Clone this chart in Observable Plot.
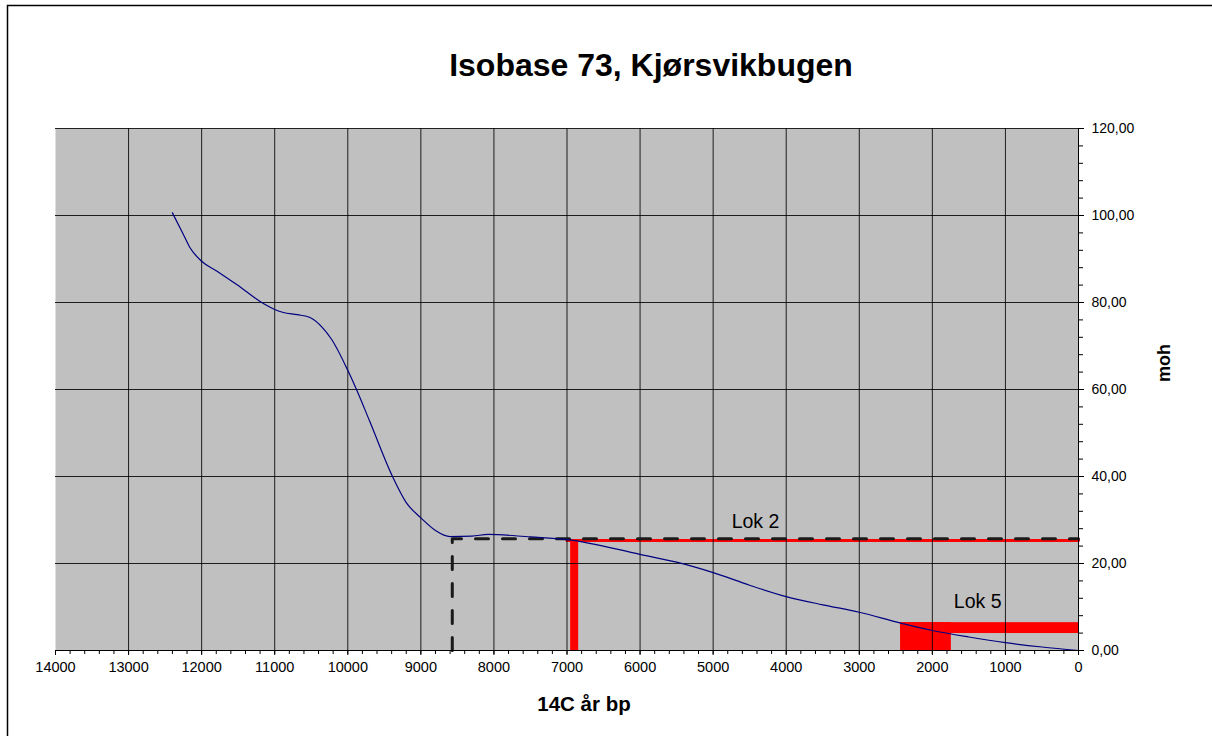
<!DOCTYPE html>
<html>
<head>
<meta charset="utf-8">
<script src="https://cdn.jsdelivr.net/npm/d3@7"></script>
<script src="https://cdn.jsdelivr.net/npm/@observablehq/plot@0.6"></script>
<style>
  html, body { margin: 0; padding: 0; background: #fff; }
  #chart svg { display: block; }
</style>
</head>
<body>
<div id="chart"></div>
<script>
// ---- data ----
const title = "Isobase 73, Kjørsvikbugen";
const xTitle = "14C år bp";
const yTitle = "moh";

// shoreline displacement curve (14C years BP, metres above sea level)
const curveYears   = [12400, 12255, 12163, 12008, 11800, 11510, 11150, 11000, 10880, 10690, 10510, 10350, 10220, 10000, 9881, 9700, 9388, 9200, 9000, 8800, 8600, 8300, 8080, 7500, 7000, 6000, 5500, 5000, 4500, 4000, 3500, 3000, 2435, 2000, 1500, 1000, 500, 0];
const curveHeights = [100.6, 95.8, 92.7, 89.6, 87.3, 84.0, 79.7, 78.4, 77.7, 77.2, 76.5, 74.3, 71.5, 64.4, 60.0, 52.7, 40.0, 34.0, 30.5, 27.6, 26.2, 26.3, 26.7, 26.1, 25.5, 22.1, 20.3, 17.9, 15.0, 12.4, 10.5, 8.8, 6.3, 4.6, 3.1, 1.8, 0.8, 0];

// red site markers: x1, x2 (years), y1, y2 (m)
const lokX1 = [6950, 2435, 2435];
const lokX2 = [6840, 1740, 0];
const lokY1 = [0, 0, 3.9];
const lokY2 = [25.3, 6.4, 6.4];

// Lok 2 level lines
const lok2RedYears = [7000, 0];
const lok2RedLevel = 25.3;
const dashedYears = [8570, 8570, 0];
const dashedLevels = [0, 25.7, 25.7];

// labels
const labelText = ["Lok 2", "Lok 5"];
const labelYears = [4420, 1380];
const labelLevels = [29.5, 11.3];

// axes
const xTicks = d3.range(0, 14001, 1000);
const xMinor = d3.range(0, 14001, 200);
const yTicks = d3.range(0, 121, 20);
const yMinor = d3.range(0, 121, 4);

// ---- build tables ----
const curve = curveYears.map((x, i) => ({x, y: curveHeights[i]}));
const lokRects = lokX1.map((x1, i) => ({x1, x2: lokX2[i], y1: lokY1[i], y2: lokY2[i]}));
const lok2Red = lok2RedYears.map(x => ({x, y: lok2RedLevel}));
const dashed = dashedYears.map((x, i) => ({x, y: dashedLevels[i]}));
const labels = labelText.map((t, i) => ({t, x: labelYears[i], y: labelLevels[i]}));

const W = 1212, H = 736;
const fmtY = d => d.toFixed(2).replace(".", ",");

const plot = Plot.plot({
  width: W,
  height: H,
  marginLeft: 55,
  marginRight: 134,
  marginTop: 128,
  marginBottom: 86,
  style: {fontFamily: "'Liberation Sans', Arial, sans-serif", fontSize: "14px", background: "#fff", color: "#000"},
  x: {domain: [14000, 0]},
  y: {domain: [0, 120]},
  marks: [
    Plot.frame({fill: "#c0c0c0", stroke: null}),
    Plot.rect(lokRects, {x1: "x1", x2: "x2", y1: "y1", y2: "y2", fill: "#ff0000"}),
    Plot.line(lok2Red, {x: "x", y: "y", stroke: "#ff0000", strokeWidth: 3}),
    Plot.gridX(xTicks.filter(d => d > 0 && d < 14000), {stroke: "#000", strokeOpacity: 0.85, strokeWidth: 1}),
    Plot.gridY(yTicks.filter(d => d > 0), {stroke: "#000", strokeOpacity: 0.85, strokeWidth: 1}),
    Plot.line(dashed, {x: "x", y: "y", stroke: "#1a1a1a", strokeWidth: 3, strokeDasharray: "13,14", curve: "linear"}),
    Plot.line(curve, {x: "x", y: "y", stroke: "#000080", strokeWidth: 1.2, curve: "monotone-x"}),
    Plot.ruleY([0], {stroke: "#000", strokeWidth: 1}),
    Plot.ruleX([0], {stroke: "#000", strokeWidth: 1}),
    Plot.axisX(xMinor, {anchor: "bottom", tickSize: 4, tickFormat: () => "", label: null}),
    Plot.axisX(xTicks, {anchor: "bottom", tickSize: 5, tickPadding: 6, tickFormat: d => String(d), label: null, fontSize: 14.5}),
    Plot.axisY(yMinor, {anchor: "right", tickSize: 4, tickFormat: () => "", label: null}),
    Plot.axisY(yTicks, {anchor: "right", tickSize: 5, tickPadding: 8, tickFormat: fmtY, label: null, fontSize: 14}),
    Plot.text(labels, {x: "x", y: "y", text: "t", fontSize: 19.5, fill: "#000"})
  ]
});

const svg = d3.select(plot);
// outer border
svg.append("rect").attr("x", 7.5).attr("y", 5.5).attr("width", W + 10).attr("height", H + 10)
  .attr("fill", "none").attr("stroke", "#000").attr("stroke-width", 1.5);
svg.append("text").attr("x", 651).attr("y", 76).attr("text-anchor", "middle")
  .attr("font-size", 32).attr("font-weight", "bold").attr("fill", "#000").text(title);
svg.append("text").attr("x", 584).attr("y", 711).attr("text-anchor", "middle")
  .attr("font-size", 20.5).attr("font-weight", "bold").attr("fill", "#000").text(xTitle);
svg.append("text").attr("transform", "translate(1170,363) rotate(-90)").attr("text-anchor", "middle")
  .attr("font-size", 18).attr("font-weight", "bold").attr("fill", "#000").text(yTitle);

document.getElementById("chart").appendChild(plot);
</script>
</body>
</html>
